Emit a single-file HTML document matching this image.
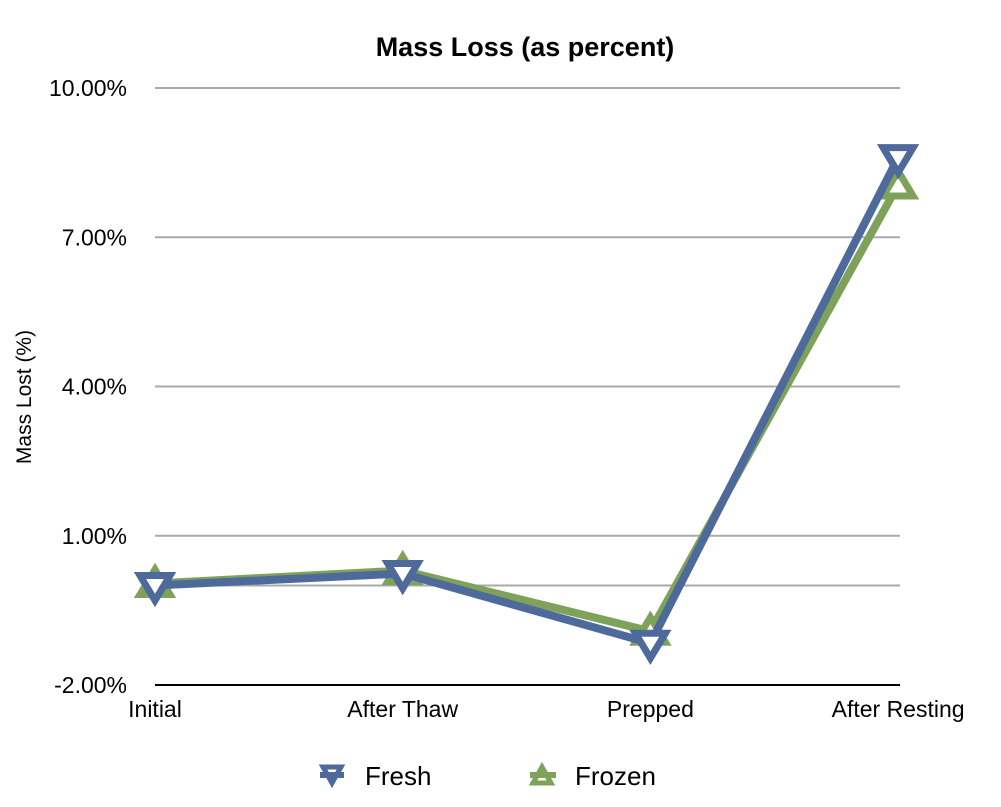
<!DOCTYPE html>
<html><head><meta charset="utf-8"><style>
body{margin:0;background:#fff;}
svg{display:block;font-family:"Liberation Sans",sans-serif;}
</style></head><body>
<svg width="1001" height="807" viewBox="0 0 1001 807">
<text x="525" y="56" text-anchor="middle" font-size="27" font-weight="bold">Mass Loss (as percent)</text>
<text transform="translate(31,397) rotate(-90)" text-anchor="middle" font-size="21">Mass Lost (%)</text>
<g id="grid"></g><g id="yt"></g><g id="xt"></g><g id="series"></g>
<g>
<g><line x1="320" x2="344" y1="775" y2="775" stroke="#4e6a9b" stroke-width="6"/><path d="M323,767 L341,767 L332,783 Z" fill="none" stroke="#4e6a9b" stroke-width="5"/><text x="365" y="785" font-size="26">Fresh</text></g>
<g><line x1="530" x2="556" y1="775" y2="775" stroke="#7fa25b" stroke-width="6"/><path d="M533,783 L551,783 L542,767 Z" fill="none" stroke="#7fa25b" stroke-width="5"/><text x="575" y="785" font-size="26">Frozen</text></g>
</g>
</svg>
<script>
const categories=["Initial","After Thaw","Prepped","After Resting"];
const fresh=[0.0,0.24,-1.16,8.6];
const frozen=[0.04,0.3,-0.92,8.05];
const yTicks=[-2,1,4,7,10];
const yTickLabels=["-2.00%","1.00%","4.00%","7.00%","10.00%"];
const NS="http://www.w3.org/2000/svg";
const y=v=>685-(v+2)*597/12;
const x=i=>155+i*247.7;
function mk(t,a,p){const e=document.createElementNS(NS,t);for(const k in a)e.setAttribute(k,a[k]);p.appendChild(e);return e;}
const g=document.getElementById('grid');
[...yTicks.slice(1),0].forEach(v=>{
const l=mk('line',{x1:155,x2:900,y1:y(v),y2:y(v),stroke:'#aaa','stroke-width':2},g);


});
const ax=mk('line',{x1:155,x2:900,y1:685,y2:685,stroke:'#000','stroke-width':2},g);


const yt=document.getElementById('yt');
yTicks.forEach((v,i)=>{const t=mk('text',{x:127,y:y(v)+8,'text-anchor':'end','font-size':23},yt);t.textContent=yTickLabels[i];

});
const xt=document.getElementById('xt');
categories.forEach((c,i)=>{const t=mk('text',{x:x(i),y:717,'text-anchor':'middle','font-size':23},xt);t.textContent=c;

});
const s=document.getElementById('series');
function draw(vals,col,down,name){
const gg=mk('g',{},s);


const pl=mk('polyline',{points:vals.map((v,i)=>x(i)+','+y(v)).join(' '),fill:'none',stroke:col,'stroke-width':8,'stroke-linejoin':'round'},gg);


vals.forEach((v,i)=>{const cx=x(i),cy=y(v);
const d=down?`M${cx-15},${cy-10} L${cx+15},${cy-10} L${cx},${cy+15} Z`:`M${cx-15},${cy+11} L${cx+15},${cy+11} L${cx},${cy-14} Z`;
const m=mk('path',{d:d,fill:'#fff',stroke:col,'stroke-width':7,'stroke-linejoin':'miter'},gg);

});
}
draw(frozen,'#7fa25b',false,'frozen');
draw(fresh,'#4e6a9b',true,'fresh');
</script>
</body></html>
